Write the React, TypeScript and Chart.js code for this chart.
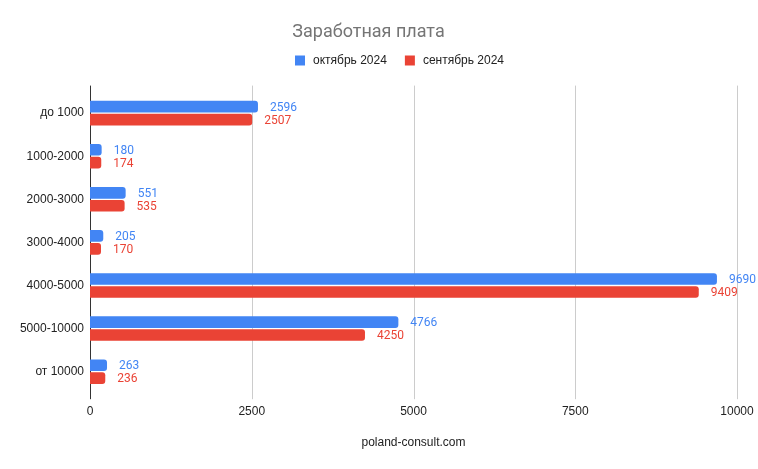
import React, { useEffect, useRef } from "react";
import { Chart, registerables } from "chart.js";

Chart.register(...registerables);

const categories = ["до 1000", "1000-2000", "2000-3000", "3000-4000", "4000-5000", "5000-10000", "от 10000"];
const october = [2596, 180, 551, 205, 9690, 4766, 263];
const september = [2507, 174, 535, 170, 9409, 4250, 236];
const seriesNames = ["октябрь 2024", "сентябрь 2024"];
const xTicks = [0, 2500, 5000, 7500, 10000];

const BLUE = "#4285f4";
const RED = "#ea4335";
const AXIS_FONT = "Arial, 'Liberation Sans', sans-serif";
const TITLE_FONT = "Roboto, Arial, sans-serif";

const legendFitPlugin = {
  id: "legendFit",
  beforeInit(chart: any) {
    const orig = chart.legend.fit;
    chart.legend.fit = function () {
      orig.call(this);
      this.height += 14;
    };
  },
  afterLayout(chart: any) {
    chart.legend.left += 30;
    chart.legend.right += 30;
  },
};

const gridPlugin = {
  id: "customGrid",
  beforeDatasetsDraw(chart: any) {
    const { ctx, chartArea, scales } = chart;
    const x = scales.x;
    const top = chartArea.top - 6;
    const bottom = chartArea.bottom + 6;
    ctx.save();
    xTicks.forEach((v) => {
      const px = Math.round(x.getPixelForValue(v)) + 0.5;
      ctx.beginPath();
      ctx.strokeStyle = v === 0 ? "#333333" : "#cccccc";
      ctx.lineWidth = 1;
      ctx.moveTo(px, top);
      ctx.lineTo(px, bottom);
      ctx.stroke();
    });
    ctx.restore();
  },
};

const labelPlugin = {
  id: "barLabels",
  afterDatasetsDraw(chart: any) {
    const { ctx } = chart;
    ctx.save();
    ctx.font = `12px ${TITLE_FONT}`;
    ctx.textBaseline = "middle";
    ctx.textAlign = "left";
    chart.data.datasets.forEach((ds: any, di: number) => {
      const meta = chart.getDatasetMeta(di);
      ctx.fillStyle = ds.backgroundColor;
      meta.data.forEach((bar: any, i: number) => {
        ctx.fillText(String(ds.data[i]), bar.x + 12, bar.y + 1);
      });
    });
    ctx.restore();
  },
};

export default function App() {
  const ref = useRef<HTMLCanvasElement>(null);
  useEffect(() => {
    if (!ref.current) return;
    const chart = new Chart(ref.current, {
      type: "bar",
      data: {
        labels: categories,
        datasets: [
          { label: seriesNames[0], data: october, backgroundColor: BLUE, borderRadius: 3, categoryPercentage: 0.6, barPercentage: 0.9 },
          { label: seriesNames[1], data: september, backgroundColor: RED, borderRadius: 3, categoryPercentage: 0.6, barPercentage: 0.9 },
        ],
      },
      options: {
        indexAxis: "y",
        responsive: false,
        animation: false,
        layout: { padding: { left: 0, right: 21, top: 0, bottom: 19 } },
        plugins: {
          title: {
            display: true,
            text: "Заработная плата",
            color: "#757575",
            font: { family: TITLE_FONT, size: 18, weight: "normal" },
            padding: { top: 22, bottom: -6 },
          },
          legend: {
            display: true,
            position: "top",
            labels: {
              boxWidth: 14,
              boxHeight: 14,
              padding: 16,
              color: "#222222",
              font: { family: AXIS_FONT, size: 12 },
              generateLabels(chart: any) {
                return chart.data.datasets.map((ds: any, i: number) => ({
                  text: ds.label,
                  fillStyle: ds.backgroundColor,
                  strokeStyle: "#ffffff",
                  lineWidth: 4,
                  fontColor: "#222222",
                  hidden: false,
                  datasetIndex: i,
                }));
              },
            },
          },
          tooltip: { enabled: false },
        },
        scales: {
          x: {
            min: 0,
            max: 10000,
            afterBuildTicks(scale: any) {
              scale.ticks = xTicks.map((v) => ({ value: v }));
            },
            afterFit(scale: any) {
              scale.paddingLeft = 0;
              scale.paddingRight = 0;
            },
            grid: { display: false, drawTicks: false },
            border: { display: false },
            ticks: {
              color: "#222222",
              font: { family: AXIS_FONT, size: 12 },
              padding: 11,
              maxRotation: 0,
              callback: (v: any) => String(v),
            },
            title: {
              display: true,
              text: "poland-consult.com",
              color: "#222222",
              font: { family: AXIS_FONT, size: 12 },
              padding: { top: 6, bottom: 0 },
            },
          },
          y: {
            grid: { display: false, drawTicks: false },
            border: { display: false },
            ticks: { color: "#222222", font: { family: AXIS_FONT, size: 12 }, padding: 6 },
            afterFit(scale: any) {
              scale.width = 90;
            },
          },
        },
      },
      plugins: [legendFitPlugin, gridPlugin, labelPlugin],
    });
    return () => chart.destroy();
  }, []);
  return (
    <div style={{ position: "fixed", left: 0, top: 0, width: 758, height: 469, background: "#fff" }}>
      <canvas ref={ref} width={758} height={469} />
    </div>
  );
}
